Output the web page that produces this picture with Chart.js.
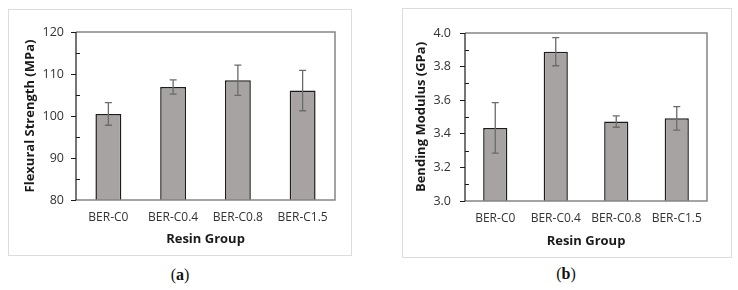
<!DOCTYPE html>
<html>
<head>
<meta charset="utf-8">
<script src="https://cdn.jsdelivr.net/npm/chart.js@4"></script>
<style>
  body { margin: 0; background: #fff; width: 738px; height: 290px; position: relative; overflow: hidden; }
  .box { position: absolute; border: 1px solid #dcdcdc; box-sizing: border-box; }
  .box canvas { position: absolute; left: 0; top: 0; }
  .cap { position: absolute; font-family: "Liberation Serif", serif; font-size: 16px; color: #111; transform: translate(-50%, -50%); }
</style>
</head>
<body>
<div class="box" id="boxA" style="left:8px;top:9px;width:344px;height:247px;">
  <canvas id="chartA" width="344" height="247"></canvas>
</div>
<div class="box" id="boxB" style="left:402px;top:8px;width:330px;height:250px;">
  <canvas id="chartB" width="330" height="250"></canvas>
</div>
<div class="cap" style="left:180px;top:275px;">(<b>a</b>)</div>
<div class="cap" style="left:566px;top:274px;">(<b>b</b>)</div>

<script>
const groups = ['BER-C0', 'BER-C0.4', 'BER-C0.8', 'BER-C1.5'];
const flexMean = [100.5, 106.9, 108.5, 106.05];
const flexErr = [2.7, 1.7, 3.6, 4.8];
const modMean = [3.435, 3.889, 3.473, 3.492];
const modErr = [0.15, 0.084, 0.034, 0.07];

const FONT = '"Open Sans", sans-serif';

// error bars, minor ticks and the plot frame
const extras = {
  id: 'extras',
  afterDatasetsDraw(chart, args, opts) {
    const ctx = chart.ctx;
    const y = chart.scales.y;
    const area = chart.chartArea;
    const meta = chart.getDatasetMeta(0);
    const means = chart.data.datasets[0].data;

    ctx.save();
    // frame (top / right / bottom in grey)
    ctx.strokeStyle = '#858585';
    ctx.lineWidth = 1.5;
    ctx.beginPath();
    ctx.moveTo(area.left, area.top);
    ctx.lineTo(area.right, area.top);
    ctx.lineTo(area.right, area.bottom);
    ctx.lineTo(area.left, area.bottom);
    ctx.stroke();

    // left axis
    ctx.strokeStyle = '#1a1a1a';
    ctx.lineWidth = 1.2;
    ctx.beginPath();
    ctx.moveTo(area.left, area.top);
    ctx.lineTo(area.left, area.bottom);
    ctx.stroke();

    // minor ticks pointing inward
    ctx.lineWidth = 1;
    for (let v = opts.min + opts.minor; v < opts.max; v += opts.step) {
      const py = Math.round(y.getPixelForValue(v)) + 0.5;
      ctx.beginPath();
      ctx.moveTo(area.left, py);
      ctx.lineTo(area.left + 4, py);
      ctx.stroke();
    }

    // error bars
    ctx.strokeStyle = '#6b6b6b';
    ctx.lineWidth = 1.3;
    meta.data.forEach((bar, i) => {
      const x = bar.x;
      const top = y.getPixelForValue(means[i] + opts.err[i]);
      const bot = y.getPixelForValue(means[i] - opts.err[i]);
      ctx.beginPath();
      ctx.moveTo(x, top);
      ctx.lineTo(x, bot);
      ctx.moveTo(x - 3.5, top);
      ctx.lineTo(x + 3.5, top);
      ctx.moveTo(x - 3.5, bot);
      ctx.lineTo(x + 3.5, bot);
      ctx.stroke();
    });
    ctx.restore();
  }
};

function makeChart(id, means, errs, yTitle, cfg) {
  return new Chart(document.getElementById(id), {
    type: 'bar',
    data: {
      labels: groups,
      datasets: [{
        data: means,
        backgroundColor: '#a7a3a3',
        borderColor: '#1c1c1c',
        borderWidth: 1.5,
        borderSkipped: false,
        categoryPercentage: 1,
        barPercentage: 0.4
      }]
    },
    options: {
      responsive: false,
      animation: false,
      layout: { padding: { top: cfg.padTop, right: cfg.padRight, left: 0, bottom: 0 } },
      plugins: {
        legend: { display: false },
        tooltip: { enabled: false },
        extras: { err: errs, min: cfg.min, max: cfg.max, step: cfg.step, minor: cfg.step / 2 }
      },
      scales: {
        x: {
          grid: { display: false, drawTicks: false },
          border: { display: false },
          ticks: { color: '#333', font: { family: FONT, size: 12 }, padding: 10, maxRotation: 0 },
          title: { display: true, text: 'Resin Group', color: '#1a1a1a', font: { family: FONT, size: 13, weight: 'bold' }, padding: { top: 0, bottom: cfg.xTitlePad } },
          afterFit(s) { s.height = cfg.xHeight; }
        },
        y: {
          min: cfg.min,
          max: cfg.max,
          grid: { display: true, drawOnChartArea: false, tickLength: 5, tickColor: '#1a1a1a' },
          border: { display: false },
          ticks: {
            stepSize: cfg.step,
            color: '#333',
            font: { family: FONT, size: 12.5 },
            padding: cfg.tickPad,
            callback: v => v.toFixed(cfg.dec)
          },
          title: { display: true, text: yTitle, color: '#1a1a1a', font: { family: FONT, size: 13, weight: 'bold' }, padding: { top: cfg.yTitlePad, bottom: 0 } },
          afterFit(s) { s.width = cfg.yWidth; }
        }
      }
    },
    plugins: [extras]
  });
}

makeChart('chartA', flexMean, flexErr, 'Flexural Strength (MPa)', {
  min: 80, max: 120, step: 10, dec: 0,
  padTop: 22, padRight: 18, xHeight: 57, yWidth: 67,
  xTitlePad: 10, yTitlePad: 13, tickPad: 7
});

makeChart('chartB', modMean, modErr, 'Bending Modulus (GPa)', {
  min: 3.0, max: 4.0, step: 0.2, dec: 1,
  padTop: 24, padRight: 26, xHeight: 58, yWidth: 62,
  xTitlePad: 10, yTitlePad: 10, tickPad: 9
});
</script>
</body>
</html>
